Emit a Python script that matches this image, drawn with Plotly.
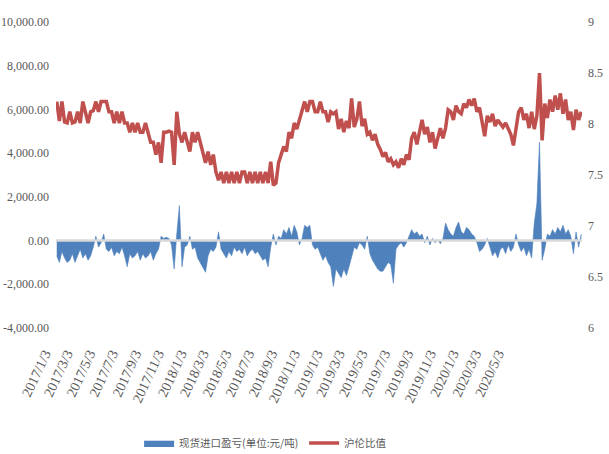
import pandas as pd
import plotly.graph_objects as go

# Weekly observation dates (Tuesdays) from 2017-01-03
dates = pd.date_range("2017-01-03", periods=202, freq="7D")

# Spot import profit/loss, yuan per tonne (left axis)
import_profit = [
    -700, -1000, -500, -800, -1000, -900, -600, -1000, -700, -400,
    -800, -600, -900, -700, -300, 200, -300, -100, 300, -400,
    -500, -300, -700, -500, -600, -300, -700, -1200, -600, -800,
    -700, -500, -900, -600, -800, -700, -500, -900, -600, -400,
    200, 100, 150, 100, -200, -1300, 300, 1600, -1200, -300,
    -200, 200, -400, -300, -800, -1000, -1200, -1450, -700, -400,
    -500, -300, 400, -400, -600, -800, -500, -700, -300, -500,
    -400, -600, -300, -700, -500, -400, -600, -500, -700, -900,
    -800, -1200, -300, 300, -200, 200, 100, 500, 300, 600,
    200, 700, 400, -200, 100, 700, 600, 700, -200, -400,
    -300, -600, -900, -700, -1000, -1200, -2100, -1300, -1500, -1700,
    -1300, -1600, -1200, -800, -300, -400, -100, -200, -400, 200,
    -600, -900, -1100, -1300, -1400, -1400, -1200, -1000, -1100, -1950,
    -400, -200, -100, -300, -100, 200, 500, 300, 400, 200,
    300, -100, 200, -200, 100, -100, 50, -150, 100, 800,
    500, 300, 200, 600, 850, 400, 300, 600, 500, 300,
    200, -100, -500, -400, -200, 100, -300, -700, -500, -800,
    -400, -300, -600, -200, -500, -300, 300, -200, -500, -300,
    -700, -400, -800, 800, 1700, 4500, -900, -400, 300, 200,
    500, 300, 600, 400, 700, 300, 500, 200, -600, 400,
    -300, 300,
]

# SHFE / LME price ratio (right axis)
ratio = [
    8.22, 8.03, 8.22, 8.02, 8.01, 8.12, 8.01, 8.02, 8.12, 8.01,
    8.22, 8.12, 8.01, 8.12, 8.13, 8.22, 8.12, 8.22, 8.22, 8.22,
    8.12, 8.12, 8.01, 8.12, 8.01, 8.12, 8.01, 8.01, 7.92, 8.01,
    7.92, 8.01, 7.92, 7.92, 8.01, 7.92, 7.82, 7.82, 7.70, 7.82,
    7.62, 7.92, 7.92, 7.93, 7.92, 7.60, 8.12, 7.90, 7.82, 7.92,
    7.82, 7.73, 7.92, 7.82, 7.92, 7.82, 7.73, 7.62, 7.73, 7.60,
    7.70, 7.53, 7.45, 7.53, 7.42, 7.53, 7.42, 7.53, 7.42, 7.53,
    7.42, 7.53, 7.53, 7.42, 7.53, 7.42, 7.53, 7.42, 7.53, 7.42,
    7.53, 7.42, 7.63, 7.40, 7.42, 7.62, 7.70, 7.78, 7.73, 7.92,
    7.86, 8.01, 7.95, 8.05, 8.12, 8.22, 8.12, 8.22, 8.22, 8.12,
    8.12, 8.22, 8.12, 8.12, 8.02, 8.12, 8.10, 8.12, 7.95, 8.05,
    7.92, 8.03, 7.96, 8.25, 7.97, 8.05, 8.22, 7.98, 8.05, 7.90,
    7.92, 7.84, 7.90, 7.80, 7.75, 7.68, 7.72, 7.63, 7.66, 7.60,
    7.63, 7.57, 7.66, 7.60, 7.70, 7.65, 7.86, 7.92, 7.80, 7.94,
    8.04, 7.90, 7.97, 7.82, 7.92, 7.76, 7.88, 7.96, 7.86, 7.96,
    8.14, 8.12, 8.04, 8.18, 8.12, 8.10, 8.20, 8.16, 8.24, 8.18,
    8.25, 8.12, 8.16, 8.02, 7.88, 8.08, 8.02, 8.10, 7.98, 8.04,
    8.00, 7.97, 8.01, 7.96, 7.90, 7.79, 7.98, 8.12, 8.16, 8.04,
    8.10, 7.96, 8.12, 7.95, 8.08, 8.50, 7.84, 8.20, 8.06, 8.24,
    8.12, 8.28, 8.14, 8.30, 8.10, 8.24, 8.04, 8.12, 7.94, 8.14,
    8.04, 8.12,
]

# Category-axis tick dates and their labels
tick_dates = [
    "2017-01-03", "2017-03-03", "2017-05-03", "2017-07-03", "2017-09-03",
    "2017-11-03", "2018-01-03", "2018-03-03", "2018-05-03", "2018-07-03",
    "2018-09-03", "2018-11-03", "2019-01-03", "2019-03-03", "2019-05-03",
    "2019-07-03", "2019-09-03", "2019-11-03", "2020-01-03", "2020-03-03",
    "2020-05-03",
]
tick_labels = [
    "2017/1/3", "2017/3/3", "2017/5/3", "2017/7/3", "2017/9/3",
    "2017/11/3", "2018/1/3", "2018/3/3", "2018/5/3", "2018/7/3",
    "2018/9/3", "2018/11/3", "2019/1/3", "2019/3/3", "2019/5/3",
    "2019/7/3", "2019/9/3", "2019/11/3", "2020/1/3", "2020/3/3",
    "2020/5/3",
]

left_vals = [-4000, -2000, 0, 2000, 4000, 6000, 8000, 10000]
left_text = ["-4,000.00", "-2,000.00", "0.00", "2,000.00", "4,000.00",
             "6,000.00", "8,000.00", "10,000.00"]
right_vals = [6, 6.5, 7, 7.5, 8, 8.5, 9]
right_text = ["6", "6.5", "7", "7.5", "8", "8.5", "9"]

BLUE = "#4f81bd"
RED = "#c0504d"
GREY_TXT = "#595959"
SERIF = "'Liberation Serif', 'DejaVu Serif', serif"
AXIS_FONT = dict(family=SERIF, size=12, color=GREY_TXT)
x_range = ["2017-01-01", "2020-11-12"]

fig = go.Figure()
fig.add_trace(go.Scatter(
    x=dates, y=import_profit, name="现货进口盈亏(单位:元/吨)",
    mode="lines", fill="tozeroy", fillcolor=BLUE,
    line=dict(color=BLUE, width=0.6), yaxis="y",
))
fig.add_trace(go.Scatter(
    x=dates, y=ratio, name="沪伦比值", mode="lines",
    line=dict(color=RED, width=3.5), yaxis="y2",
))

# Light grey horizontal axis line through zero, drawn over the area fill
fig.add_shape(
    type="line", xref="paper", x0=0, x1=1, yref="y", y0=0, y1=0,
    line=dict(color="#d9d9d9", width=2.5), layer="above",
)

fig.update_layout(
    width=609, height=454,
    margin=dict(l=56, r=27, t=22, b=126, autoexpand=False),
    paper_bgcolor="white", plot_bgcolor="white",
    showlegend=True,
    xaxis=dict(
        type="date", range=x_range, tickvals=tick_dates, ticktext=tick_labels,
        tickangle=-65, tickfont=dict(family=SERIF, size=14, color=GREY_TXT),
        showgrid=False, zeroline=False, showline=False, ticks="",
        ticklabelstandoff=14, ticklabelshift=-12, automargin=False,
    ),
    yaxis=dict(
        range=[-4000, 10000], tickvals=left_vals, ticktext=left_text,
        tickfont=AXIS_FONT, showgrid=False, zeroline=False, showline=False,
        ticklabelstandoff=6, automargin=False,
    ),
    yaxis2=dict(
        range=[6, 9], tickvals=right_vals, ticktext=right_text, overlaying="y",
        side="right", tickfont=AXIS_FONT, showgrid=False, zeroline=False,
        showline=False, ticklabelstandoff=5, automargin=False,
    ),
    legend=dict(
        orientation="h", x=0.158, xanchor="left",
        yref="container", y=1 - 443 / 454, yanchor="middle",
        itemwidth=30, entrywidth=120,
        font=dict(family="Noto Sans CJK SC", size=10.5, color=GREY_TXT),
        bgcolor="rgba(0,0,0,0)",
    ),
)

fig.write_html("out.html")
